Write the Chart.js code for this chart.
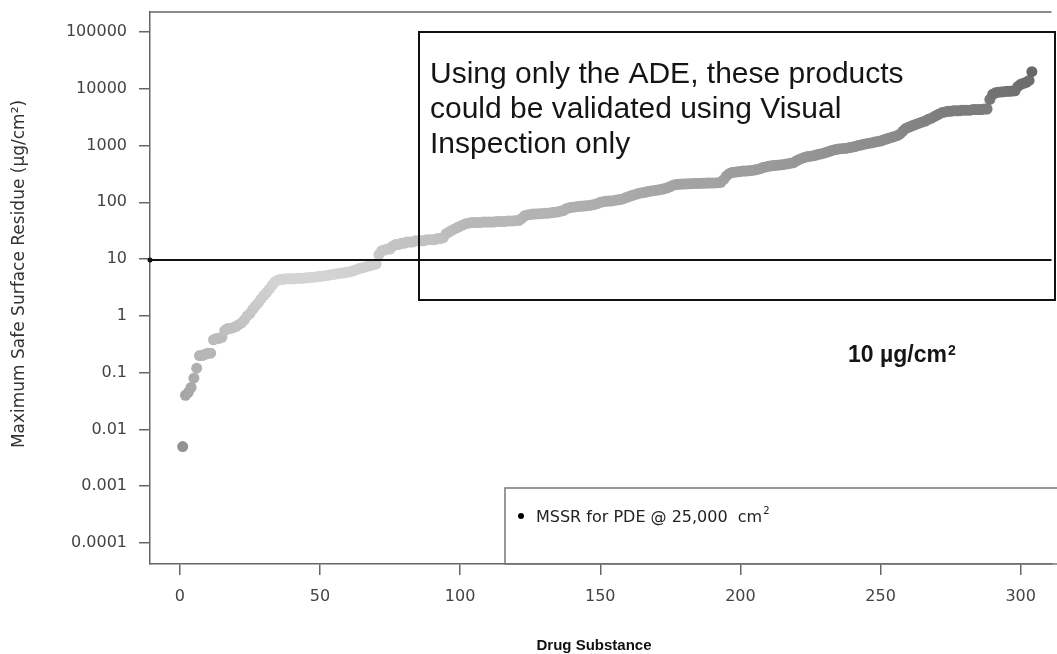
<!DOCTYPE html>
<html><head><meta charset="utf-8">
<script src="https://cdn.jsdelivr.net/npm/chart.js@4/dist/chart.umd.min.js"></script>
<style>html,body{margin:0;padding:0;background:#fff;overflow:hidden}#wrap{width:1057px;height:654px;position:relative}</style>
</head><body><div id="wrap"><canvas id="c" width="1057" height="654"></canvas></div>
<script>
// MSSR values (µg/cm²) per drug substance, sorted ascending (index 1..303)
const mssrValues = [
  0.005, 0.04, 0.045, 0.055, 0.08, 0.12, 0.2, 0.2, 0.21, 0.22, 0.22,
  0.38, 0.4, 0.4, 0.42, 0.55, 0.6, 0.6, 0.62, 0.65, 0.7, 0.75,
  0.85, 1.0, 1.1, 1.3, 1.5, 1.7, 2.0, 2.3, 2.6, 3.0, 3.5, 4.0, 4.3,
  4.4, 4.4, 4.5, 4.5, 4.5, 4.5, 4.6, 4.6, 4.6, 4.7, 4.7, 4.8, 4.8,
  4.9, 5.0, 5.0, 5.1, 5.2, 5.3, 5.4, 5.5, 5.6, 5.7, 5.8, 5.9, 6.0,
  6.3, 6.5, 6.8, 7.0, 7.2, 7.5, 7.7, 8.0, 8.2,
  12, 14, 14.5, 15, 15,
  17, 18, 18, 19, 19, 20, 20, 20, 21,
  21, 21, 21, 22, 22, 22, 22, 23, 23, 24,
  28, 30, 32, 34, 36, 38, 40, 42, 43, 44,
  44, 44, 44, 45, 45, 45, 45, 45, 46, 46, 46, 46, 47, 47, 47, 48, 48,
  52, 58, 60, 61, 62, 62, 63, 63, 64, 64, 65, 66, 67, 68, 70, 72,
  78, 80, 82, 83, 84, 85, 86, 87, 88, 90, 92, 95,
  100, 102, 104, 105, 106, 108, 110, 112, 115,
  120, 125, 130, 135, 140, 145, 148, 150, 155, 158, 160, 163, 166, 170, 175, 180, 190,
  200, 205, 208, 210, 210, 212, 212, 214, 215, 215, 216, 216, 218, 218, 220, 220, 222, 225,
  250, 290, 320, 335, 340, 345, 350, 355, 355, 360, 365, 370, 380, 390,
  410, 420, 430, 440, 445, 450, 455, 460, 470, 480, 490, 500,
  540, 570, 600, 620, 640, 650, 660, 680, 700, 720, 740, 770, 800,
  830, 850, 870, 880, 890, 900, 920, 940, 960,
  1000, 1020, 1050, 1080, 1100, 1120, 1150, 1180, 1200, 1250, 1300, 1350, 1400, 1450, 1500,
  1600, 1800, 2000, 2100, 2200, 2300, 2400, 2500, 2600, 2700, 2900, 3000, 3200, 3400, 3600, 3800, 3900,
  4000, 4000, 4100, 4100, 4100, 4200, 4200, 4200, 4200, 4300, 4300, 4300, 4300, 4400, 4400,
  6500, 8000, 8500, 8700, 8800, 8900, 9000, 9000, 9100, 9200,
  11000, 12000, 12500, 13000, 14000,
  20000
];
const xTickValues = [0, 50, 100, 150, 200, 250, 300];
const yTickValues = [0.0001, 0.001, 0.01, 0.1, 1, 10, 100, 1000, 10000, 100000];
const thresholdValue = 10;
const annotationLines = ["Using only the ADE, these products", "could be validated using Visual", "Inspection only"];
const thresholdLabel = "10 µg/cm";
const legendLabel = "MSSR for PDE @ 25,000  cm";
const xTitle = "Drug Substance";
const yTitle = "Maximum Safe Surface Residue (µg/cm²)";

function pointColor(v) {
  let g;
  if (v >= 5) g = 212 - 30 * Math.log10(v / 5);
  else g = 212 - 22 * Math.log10(5 / v);
  g = Math.round(Math.max(90, Math.min(220, g)));
  return `rgb(${g},${g},${g})`;
}

const overlay = {
  id: 'overlay',
  afterDatasetsDraw(chart) {
    const {ctx, chartArea: a, scales: {y}} = chart;
    ctx.save();
    ctx.strokeStyle = '#666'; ctx.lineWidth = 1.5;
    ctx.beginPath(); ctx.moveTo(a.left, a.top); ctx.lineTo(a.right, a.top); ctx.stroke();
    const ty = Math.round(y.getPixelForValue(thresholdValue)) + 1;
    ctx.strokeStyle = '#111'; ctx.lineWidth = 2;
    ctx.beginPath(); ctx.moveTo(a.left, ty); ctx.lineTo(a.right, ty); ctx.stroke();
    ctx.fillStyle = '#111';
    ctx.beginPath(); ctx.arc(a.left, ty, 2.5, 0, Math.PI * 2); ctx.fill();
    ctx.strokeStyle = '#111'; ctx.lineWidth = 2;
    ctx.strokeRect(419, 32, 636, 268);
    ctx.fillStyle = '#151515';
    ctx.font = '30px "Liberation Sans", Arial, sans-serif';
    ctx.textAlign = 'left'; ctx.textBaseline = 'alphabetic';
    annotationLines.forEach((t, i) => ctx.fillText(t, 430, 83 + i * 35));
    ctx.font = 'bold 23px "Liberation Sans", Arial, sans-serif';
    ctx.fillText(thresholdLabel, 848, 362);
    const w = ctx.measureText(thresholdLabel).width;
    ctx.font = 'bold 14px "Liberation Sans", Arial, sans-serif';
    ctx.fillText('2', 848 + w + 1, 355);
    ctx.strokeStyle = '#777'; ctx.lineWidth = 1.5;
    ctx.strokeRect(505, 488, 600, 76);
    ctx.fillStyle = '#000';
    ctx.beginPath(); ctx.arc(521, 516, 3, 0, Math.PI * 2); ctx.fill();
    ctx.fillStyle = '#222';
    ctx.font = '16px "DejaVu Sans", sans-serif';
    ctx.fillText(legendLabel, 536, 522);
    const lw = ctx.measureText(legendLabel).width;
    ctx.font = '10px "DejaVu Sans", sans-serif';
    ctx.fillText('2', 536 + lw + 1, 514);
    ctx.fillStyle = '#111';
    ctx.font = 'bold 15px "Liberation Sans", Arial, sans-serif';
    ctx.textAlign = 'center';
    ctx.fillText(xTitle, 594, 650);
    // y title
    ctx.save();
    ctx.translate(20, 274);
    ctx.rotate(-Math.PI / 2);
    ctx.fillStyle = '#333';
    ctx.font = '17px "DejaVu Sans", sans-serif';
    ctx.textAlign = 'center'; ctx.textBaseline = 'middle';
    ctx.fillText(yTitle, 0, 0);
    ctx.restore();
    ctx.restore();
  }
};

new Chart(document.getElementById('c'), {
  type: 'scatter',
  data: {
    datasets: [{
      label: 'MSSR for PDE @ 25,000 cm²',
      data: mssrValues.map((v, i) => ({x: i + 1, y: v})),
      backgroundColor: ctx => pointColor(ctx.raw ? ctx.raw.y : 10),
      borderWidth: 0,
      pointRadius: 5.5,
      pointHoverRadius: 5.5
    }]
  },
  options: {
    responsive: false,
    animation: false,
    devicePixelRatio: 1,
    layout: {padding: {top: 12, right: 0, left: 0, bottom: 0}},
    plugins: {legend: {display: false}, tooltip: {enabled: false}},
    scales: {
      x: {
        type: 'linear',
        min: -10.66, max: 311.0,
        afterBuildTicks: s => { s.ticks = xTickValues.map(v => ({value: v})); },
        afterFit: s => { s.height = 90; s.paddingLeft = 0; s.paddingRight = 0; },
        grid: {drawOnChartArea: false, drawTicks: true, tickLength: 11, color: '#666', lineWidth: 1.5},
        border: {display: true, color: '#666', width: 1.5},
        ticks: {color: '#444', font: {family: '"DejaVu Sans", sans-serif', size: 16}, padding: 12, maxRotation: 0, autoSkip: false}
      },
      y: {
        type: 'logarithmic',
        min: Math.pow(10, -4.37), max: Math.pow(10, 5.352),
        afterBuildTicks: s => { s.ticks = yTickValues.map(v => ({value: v})); },
        afterFit: s => { s.width = 150; s.paddingTop = 0; s.paddingBottom = 0; },
        grid: {drawOnChartArea: false, drawTicks: true, tickLength: 11, color: '#666', lineWidth: 1.5},
        border: {display: true, color: '#666', width: 1.5},
        ticks: {color: '#444', font: {family: '"DejaVu Sans", sans-serif', size: 16}, padding: 12,
                callback: v => String(v)}
      }
    }
  },
  plugins: [overlay]
});
</script></body></html>
